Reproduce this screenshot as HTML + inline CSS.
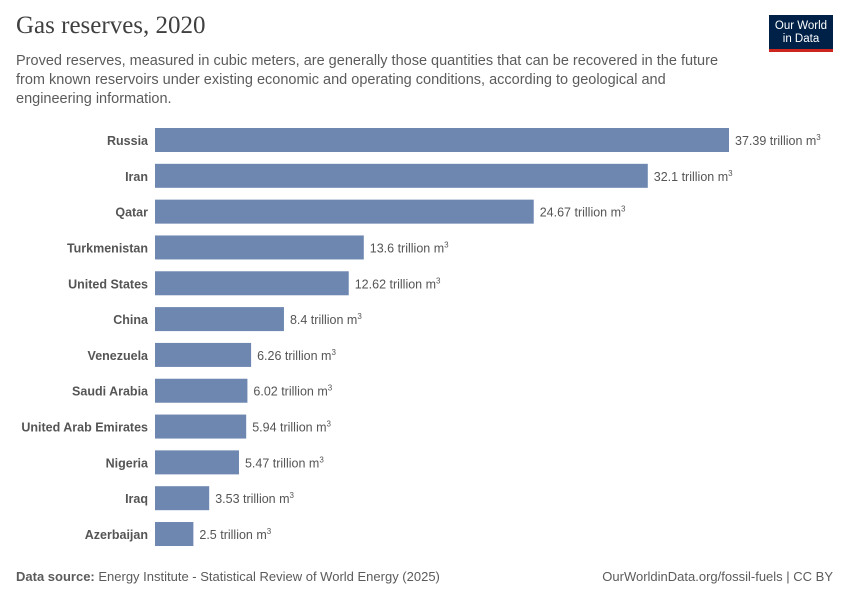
<!DOCTYPE html>
<html><head><meta charset="utf-8">
<style>
body{margin:0;width:850px;height:600px;background:#fff;font-family:"Liberation Sans",sans-serif;overflow:hidden;position:relative}
.title{position:absolute;left:16px;top:12px;font-family:"Liberation Serif",serif;font-size:25px;color:#404040}
.sub{position:absolute;left:16px;top:52px;width:716px;font-size:14.5px;line-height:19px;color:#5b5b5b}
.logo{position:absolute;left:769px;top:15px;width:64px;height:37px;background:#002147;color:#fff;font-size:11.5px;line-height:13px;text-align:center;padding-top:5px;box-sizing:border-box;border-bottom:3px solid #ce261e}
.foot{position:absolute;top:569px;font-size:13px;color:#5b5b5b}
</style></head><body>
<div class="title">Gas reserves, 2020</div>
<div class="sub">Proved reserves, measured in cubic meters, are generally those quantities that can be recovered in the future from known reservoirs under existing economic and operating conditions, according to geological and engineering information.</div>
<div class="logo">Our World<br>in Data</div>
<svg id="chart" width="850" height="600" style="position:absolute;left:0;top:0"></svg>
<div class="foot" style="left:16px"><b>Data source:</b> Energy Institute - Statistical Review of World Energy (2025)</div>
<div class="foot" style="right:17px">OurWorldinData.org/fossil-fuels | CC BY</div>
<script>
const countries=["Russia","Iran","Qatar","Turkmenistan","United States","China","Venezuela","Saudi Arabia","United Arab Emirates","Nigeria","Iraq","Azerbaijan"];
const values=[37.39,32.1,24.67,13.6,12.62,8.4,6.26,6.02,5.94,5.47,3.53,2.5];
const labels=["37.39","32.1","24.67","13.6","12.62","8.4","6.26","6.02","5.94","5.47","3.53","2.5"];
const svg=document.getElementById('chart');
const NS='http://www.w3.org/2000/svg';
const x0=155,xScale=v=>x0+v*(574/37.39);
const yC=i=>140+i*35.82;
countries.forEach((c,i)=>{
  const r=document.createElementNS(NS,'rect');
  r.setAttribute('x',x0);r.setAttribute('y',yC(i)-12);
  r.setAttribute('width',xScale(values[i])-x0);r.setAttribute('height',24);
  r.setAttribute('fill','#6d87b1');
  
  
  svg.appendChild(r);
  const t=document.createElementNS(NS,'text');
  t.setAttribute('x',148);t.setAttribute('y',yC(i)+5);t.setAttribute('text-anchor','end');
  t.setAttribute('font-size','12.5');t.setAttribute('font-weight','bold');t.setAttribute('fill','#555');
  t.setAttribute('font-family','Liberation Sans, sans-serif');
  t.textContent=c;
  
  
  svg.appendChild(t);
  const v=document.createElementNS(NS,'text');
  v.setAttribute('x',xScale(values[i])+6);v.setAttribute('y',yC(i)+5);
  v.setAttribute('font-size','12.5');v.setAttribute('fill','#555');
  v.setAttribute('font-family','Liberation Sans, sans-serif');
  v.innerHTML=labels[i]+' trillion m<tspan font-size="8" dy="-5">3</tspan>';
  
  
  svg.appendChild(v);
});
</script>
</body></html>
